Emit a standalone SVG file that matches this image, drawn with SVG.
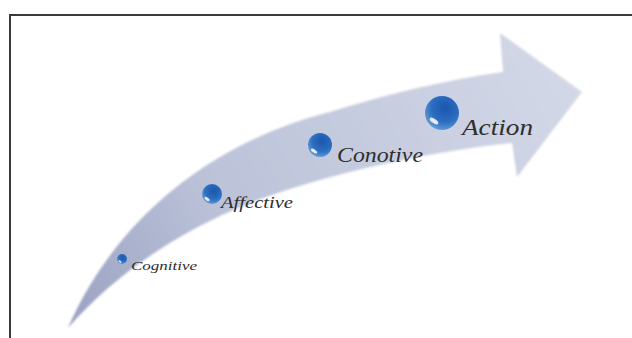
<svg xmlns="http://www.w3.org/2000/svg" width="632" height="338" viewBox="0 0 632 338">
  <defs>
    <linearGradient id="arrowFill" gradientUnits="userSpaceOnUse" x1="68" y1="328" x2="560" y2="60">
      <stop offset="0" stop-color="#9aa2c2"/>
      <stop offset="0.35" stop-color="#bcc3d9"/>
      <stop offset="1" stop-color="#d3d8e7"/>
    </linearGradient>
    <radialGradient id="ball" cx="0.6" cy="0.35" r="0.7">
      <stop offset="0" stop-color="#1b56ab"/>
      <stop offset="0.6" stop-color="#2c6ec2"/>
      <stop offset="1" stop-color="#6a9fd9"/>
    </radialGradient>
    <filter id="soft" x="-10%" y="-10%" width="120%" height="120%">
      <feGaussianBlur stdDeviation="1"/>
    </filter>
  </defs>
  <style>
    .frame { stroke: #3a3a3a; stroke-width: 2; fill: none; }
    .ball { fill: url(#ball); }
    .glint { fill: #ffffff; opacity: 0.85; }
    .lbl { font-family: "Liberation Serif", "Times New Roman", serif; font-style: italic; fill: #2e2e2e; }
  </style>
  <rect x="0" y="0" width="632" height="338" fill="#ffffff"/>
  <path class="frame" d="M10,338 V15 H632"/>

  <g id="arrow">
    <path d="M68,328 C110,230 200,145 330,112 C400,90 460,78 503,72 L500,33 L582,92 L517,177 L512,143 C440,150 330,172 250,203 C170,235 110,280 68,328 Z" fill="url(#arrowFill)" filter="url(#soft)"/>
  </g>

  <g id="cognitive">
    <circle class="ball" cx="122" cy="259" r="5"/>
    <ellipse class="glint" cx="120" cy="261.5" rx="1.6" ry="0.8" transform="rotate(35 120 261.5)"/>
    <text class="lbl" x="131" y="270" font-size="13" textLength="66" lengthAdjust="spacingAndGlyphs">Cognitive</text>
  </g>

  <g id="affective">
    <circle class="ball" cx="212" cy="194" r="10"/>
    <ellipse class="glint" cx="207" cy="199" rx="3" ry="1.4" transform="rotate(35 207 199)"/>
    <text class="lbl" x="221" y="208" font-size="16" textLength="72" lengthAdjust="spacingAndGlyphs">Affective</text>
  </g>

  <g id="conotive">
    <circle class="ball" cx="320" cy="145" r="12"/>
    <ellipse class="glint" cx="314" cy="151" rx="3.6" ry="1.6" transform="rotate(35 314 151)"/>
    <text class="lbl" x="337" y="162" font-size="20" textLength="86" lengthAdjust="spacingAndGlyphs">Conotive</text>
  </g>

  <g id="action">
    <circle class="ball" cx="442" cy="113" r="17"/>
    <ellipse class="glint" cx="434" cy="121" rx="5" ry="2.2" transform="rotate(35 434 121)"/>
    <text class="lbl" x="462" y="135" font-size="24" textLength="71" lengthAdjust="spacingAndGlyphs">Action</text>
  </g>
</svg>
